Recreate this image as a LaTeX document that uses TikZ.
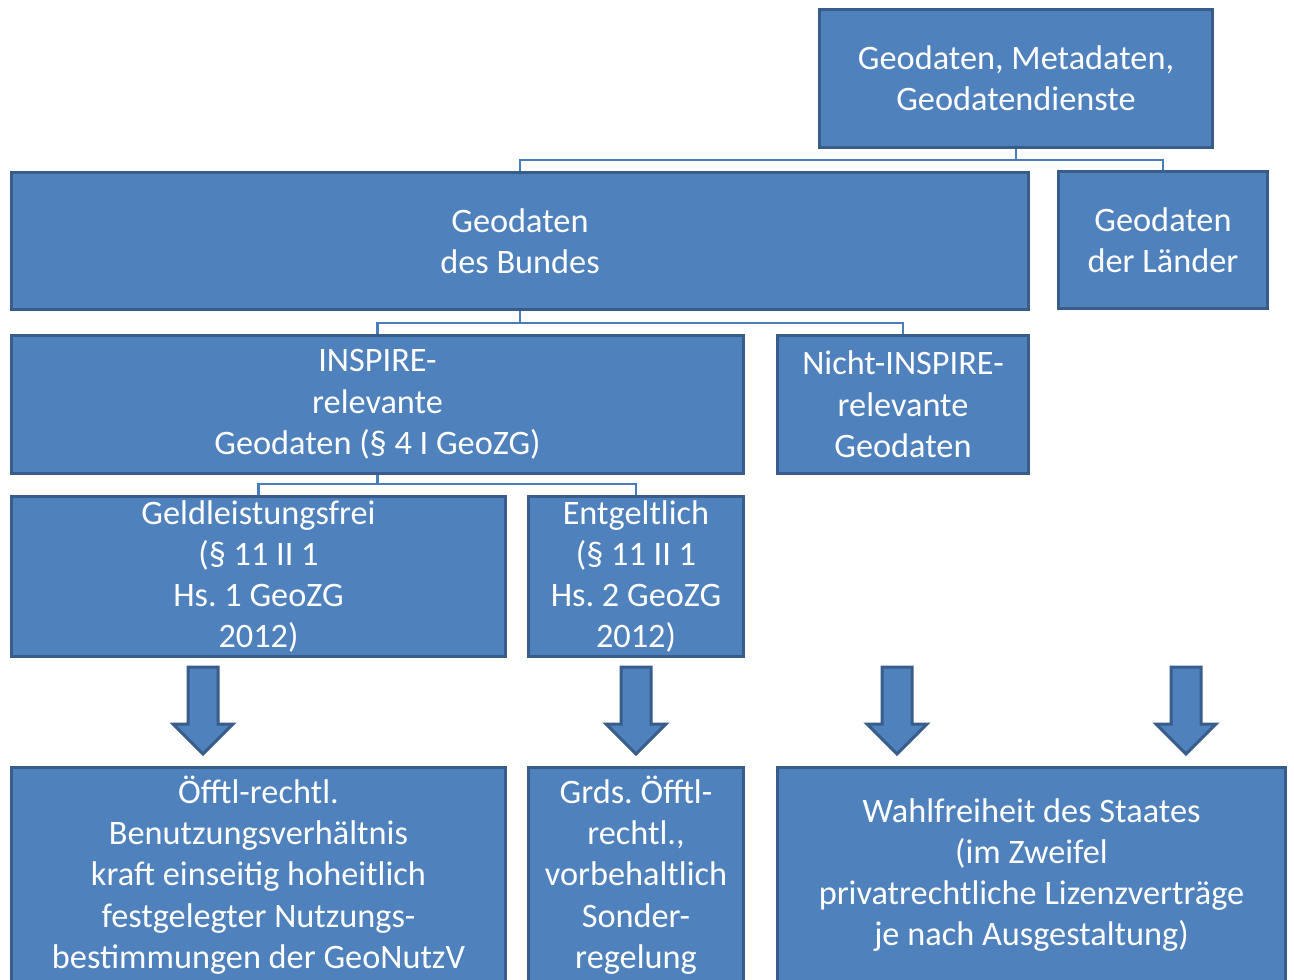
\documentclass[tikz,border=0pt]{standalone}
\usepackage{fontspec}
\setmainfont{Carlito}
\usetikzlibrary{shapes.arrows}
\definecolor{boxfill}{HTML}{4F81BD}
\definecolor{boxline}{HTML}{385D8A}
\definecolor{connline}{HTML}{4A7EBB}
\frenchspacing
\begin{document}
\begin{tikzpicture}[x=1pt,y=-1pt,
  box/.style={draw=boxline,fill=boxfill,line width=3pt,text=white,align=center,
    inner sep=0pt,font=\fontsize{34.3}{41.3}\selectfont},
  conn/.style={draw=connline,line width=2.8pt},
  downarrow/.style={single arrow,draw=boxline,fill=boxfill,line width=3pt,
    shape border rotate=270,minimum height=87pt,inner sep=13.5pt,
    single arrow head extend=15pt}]
  \useasboundingbox (0,0) rectangle (1294,980);
  \clip (0,0) rectangle (1294,980);

  \node[box,minimum width=393,minimum height=138] (geo) at (1016,78.5) {Geodaten, Metadaten,\\ Geodatendienste};
  \node[box,minimum width=1017,minimum height=137] (bund) at (520,241) {Geodaten\\ des Bundes};
  \node[box,minimum width=209,minimum height=137] (land) at (1163,240) {Geodaten\\ der Länder};

  \node[box,minimum width=732,minimum height=138] (inspire) at (377.5,404.5) {INSPIRE-\\ relevante\\ Geodaten (§ 4 I GeoZG)};
  \node[box,minimum width=251,minimum height=138] (nicht) at (903,404.5) {Nicht-INSPIRE-\\ relevante\\ Geodaten};

  \node[box,minimum width=494,minimum height=160] (frei) at (258.5,576.5) {Geldleistungsfrei\\ (§ 11 II 1\\ Hs. 1 GeoZG\\ 2012)};
  \node[box,minimum width=215,minimum height=160] (entgelt) at (636,576.5) {Entgeltlich\\ (§ 11 II 1\\ Hs. 2 GeoZG\\ 2012)};

  \node[box,minimum width=494,minimum height=215] (oeffentl) at (258.5,875) {Öfftl-rechtl.\\ Benutzungsverhältnis\\ kraft einseitig hoheitlich\\ festgelegter Nutzungs-\\ bestimmungen der GeoNutzV};
  \node[box,minimum width=215,minimum height=215] (grds) at (636,875) {Grds. Öfftl-\\ rechtl.,\\ vorbehaltlich\\ Sonder-\\ regelung};
  \node[box,minimum width=508,minimum height=215] (wahl) at (1031.5,875) {Wahlfreiheit des Staates\\ (im Zweifel\\ privatrechtliche Lizenzverträge\\ je nach Ausgestaltung)};

  \draw[conn] (geo.south) -- ++(0,11) -| (bund.north);
  \draw[conn] (geo.south) -- ++(0,11) -| (land.north);
  \draw[conn] (bund.south) -- ++(0,12) -| (inspire.north);
  \draw[conn] (bund.south) -- ++(0,12) -| (nicht.north);
  \draw[conn] (inspire.south) -- ++(0,9) -| (frei.north);
  \draw[conn] (inspire.south) -- ++(0,9) -| (entgelt.north);

  \node[downarrow] (pfeil1) at (203,703) {};
  \node[downarrow] (pfeil2) at (636,703) {};
  \node[downarrow] (pfeil3) at (897,703) {};
  \node[downarrow] (pfeil4) at (1186,703) {};
\end{tikzpicture}
\end{document}
